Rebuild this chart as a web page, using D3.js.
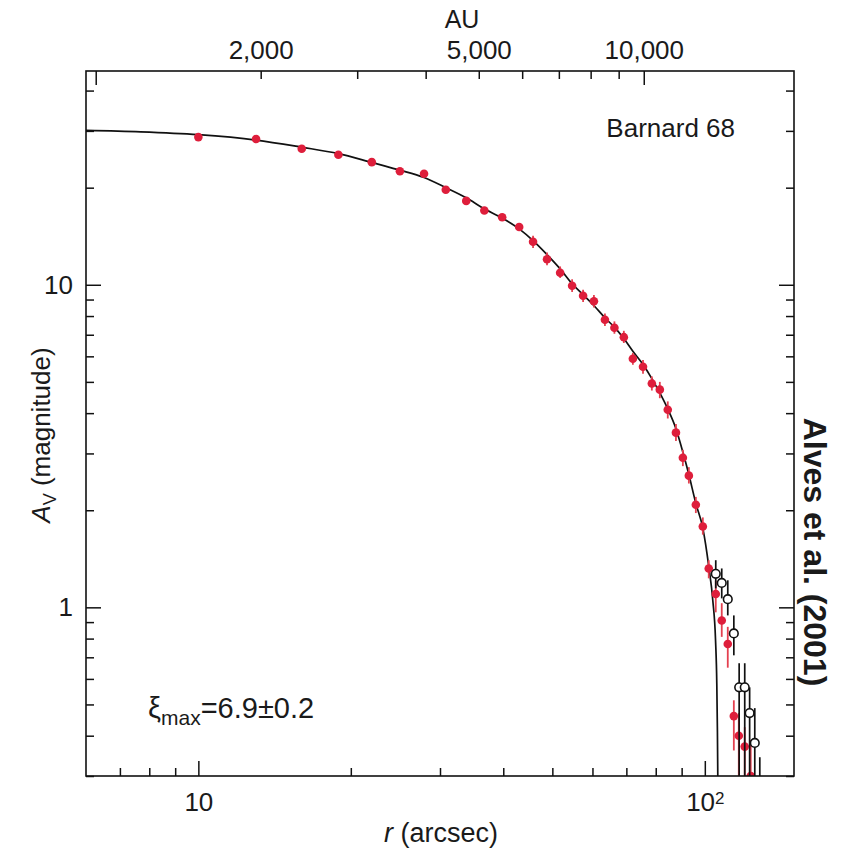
<!DOCTYPE html>
<html lang="en">
<head>
    <meta charset="UTF-8">
    <title>Barnard 68 extinction profile</title>
    <style>
        * { margin: 0; padding: 0; }
        body { background: #fff; }
        text { font-family: "Liberation Sans", Arial, sans-serif; fill: #1a1a1a; }
    </style>
</head>
<body>
    <div id="chart"></div>
    <script src="https://cdn.jsdelivr.net/npm/d3@7"></script>
    <script>
        // red points (NICER), r in arcsec, Av in magnitudes
        const redR = [10.0, 13.0, 16.0, 18.9, 22.0, 25.0, 27.9, 30.8, 33.8, 36.7, 39.8, 43.0, 45.8, 48.8, 51.8, 54.7, 57.5, 60.4, 63.5, 66.3, 69.2, 72.1, 75.5, 78.6, 81.5, 84.5, 87.7, 90.5, 93.0, 96.0, 99.1, 101.8, 105.1, 108.0, 111.0, 114.1, 116.7, 119.9, 123.2]
        const redAv = [28.7, 28.3, 26.4, 25.3, 24.0, 22.5, 22.1, 19.7, 18.2, 17.0, 16.2, 15.1, 13.6, 12.0, 10.9, 9.93, 9.25, 8.89, 7.79, 7.36, 6.88, 5.90, 5.57, 4.94, 4.73, 4.10, 3.48, 2.91, 2.56, 2.08, 1.78, 1.32, 1.10, 0.91, 0.77, 0.46, 0.40, 0.37, 0.30]
        const redLo = [null, null, null, null, null, null, null, null, null, null, null, null, 13.0, 11.5, 10.5, 9.5, 8.85, 8.5, 7.45, 7.05, 6.6, 5.65, 5.3, 4.7, 4.45, 3.85, 3.28, 2.74, 2.42, 1.96, 1.68, 1.23, 0.965, 0.81, 0.65, 0.36, 0.25, 0.25, 0.2]
        const redHi = [null, null, null, null, null, null, null, null, null, null, null, null, 14.2, 12.6, 11.4, 10.4, 9.65, 9.3, 8.15, 7.7, 7.2, 6.15, 5.85, 5.2, 5.0, 4.35, 3.7, 3.08, 2.72, 2.2, 1.9, 1.40, 1.21, 1.03, 0.87, 0.515, 0.47, 0.425, 0.388]

        // open circles
        const openR = [105.1, 108.0, 111.0, 114.1, 116.9, 119.9, 122.6, 125.5, 128.4]
        const openAv = [1.27, 1.19, 1.06, 0.83, 0.565, 0.565, 0.47, 0.38, 0.27]
        const openLo = [1.145, 1.066, 0.944, 0.71, 0.2, 0.2, 0.2, 0.2, 0.2]
        const openHi = [1.40, 1.32, 1.213, 0.944, 0.671, 0.671, 0.565, 0.487, 0.343]

        // Bonnor-Ebert fit
        const fitR = [6.0, 7.69, 10.0, 13.0, 16.0, 18.9, 21.7, 24.9, 27.9, 30.8, 33.8, 36.7, 39.8, 43.0, 45.8, 48.8, 51.8, 54.7, 57.5, 60.7, 63.5, 66.5, 69.2, 72.1, 75.5, 78.6, 81.5, 84.5, 87.7, 90.5, 93.0, 96.0, 99.1, 101.8, 103.7, 105.0, 105.6, 105.9, 106.1]
        const fitAv = [30.1, 29.8, 29.2, 28.1, 26.7, 25.5, 24.1, 22.7, 21.5, 20.0, 18.6, 17.2, 16.1, 14.9, 13.7, 12.4, 11.2, 10.07, 9.31, 8.55, 7.90, 7.35, 6.81, 6.22, 5.66, 5.12, 4.62, 4.12, 3.58, 3.03, 2.58, 2.10, 1.76, 1.34, 1.05, 0.79, 0.58, 0.41, 0.29]

        // ticks
        const xMajor = [10, 100]
        const xMinor = [7, 8, 9, 20, 30, 40, 50, 60, 70, 80, 90]
        const yMajor = [1, 10]
        const yMinor = [0.3, 0.4, 0.5, 0.6, 0.7, 0.8, 0.9, 2, 3, 4, 5, 6, 7, 8, 9, 20, 30, 40]
        const auMajor = [1000, 10000]
        const auMinor = [2000, 3000, 4000, 5000, 6000, 7000, 8000, 9000]
        const auLabels = [2000, 5000, 10000]

        function drawChart() {
            const width = 843
            const height = 849
            const left = 86, right = 794, top = 71, bottom = 776
            const red = '#de1e3b'

            const svg = d3.select('#chart')
                .append('svg')
                .attr('width', width)
                .attr('height', height)

            const x = d3.scaleLog().domain([6, 150]).range([left, right])
            const y = d3.scaleLog().domain([0.3, 46]).range([bottom, top])
            const xAU = d3.scaleLog().domain([960, 18800]).range([left, right])

            svg.append('clipPath').attr('id', 'plot')
                .append('rect')
                .attr('x', left).attr('y', top)
                .attr('width', right - left).attr('height', bottom - top)

            const plot = svg.append('g').attr('clip-path', 'url(#plot)')

            // fit curve
            const line = d3.line()
                .x((d, i) => x(fitR[i]))
                .y((d, i) => y(fitAv[i]))
                .curve(d3.curveMonotoneX)
            plot.append('path')
                .datum(fitR)
                .attr('d', line)
                .attr('fill', 'none')
                .attr('stroke', '#111')
                .attr('stroke-width', 1.7)

            // red error bars + points
            const redIdx = d3.range(redR.length)
            plot.selectAll('line.red-err')
                .data(redIdx.filter(i => redLo[i] !== null))
                .join('line')
                .attr('class', 'red-err')
                .attr('x1', i => x(redR[i]))
                .attr('x2', i => x(redR[i]))
                .attr('y1', i => y(redLo[i]))
                .attr('y2', i => y(redHi[i]))
                .attr('stroke', '#e4404f')
                .attr('stroke-width', 1.8)
            plot.selectAll('circle.red')
                .data(redIdx)
                .join('circle')
                .attr('class', 'red')
                .attr('cx', i => x(redR[i]))
                .attr('cy', i => y(redAv[i]))
                .attr('r', 4.3)
                .attr('fill', red)

            // open circles
            const openIdx = d3.range(openR.length)
            plot.selectAll('line.open-err')
                .data(openIdx)
                .join('line')
                .attr('class', 'open-err')
                .attr('x1', i => x(openR[i]))
                .attr('x2', i => x(openR[i]))
                .attr('y1', i => y(openLo[i]))
                .attr('y2', i => y(openHi[i]))
                .attr('stroke', '#111')
                .attr('stroke-width', 1.7)
            plot.selectAll('circle.open')
                .data(openIdx)
                .join('circle')
                .attr('class', 'open')
                .attr('cx', i => x(openR[i]))
                .attr('cy', i => y(openAv[i]))
                .attr('r', 4.3)
                .attr('fill', '#fff')
                .attr('stroke', '#111')
                .attr('stroke-width', 1.6)

            // axes, ticks pointing inward
            const fontSize = '26px'
            const styleAxis = g => {
                g.select('.domain').remove()
                g.selectAll('.tick line').attr('stroke', '#111').attr('stroke-width', 1.5)
                g.selectAll('.tick text').style('font-size', fontSize)
                    .style('font-family', '"Liberation Sans", Arial, sans-serif').attr('fill', '#1a1a1a')
            }

            svg.append('g').attr('transform', `translate(0, ${bottom})`)
                .call(d3.axisBottom(x).tickValues(xMinor).tickSize(-8).tickFormat(''))
                .call(styleAxis)
            const xAxisMajor = svg.append('g').attr('transform', `translate(0, ${bottom})`)
                .call(d3.axisBottom(x).tickValues(xMajor).tickSize(-15).tickPadding(17).tickFormat(d => '10'))
                .call(styleAxis)
            xAxisMajor.selectAll('.tick text')
                .filter(d => d === 100)
                .append('tspan')
                .attr('dy', '-0.45em')
                .style('font-size', '17px')
                .text('2')

            svg.append('g').attr('transform', `translate(${left}, 0)`)
                .call(d3.axisLeft(y).tickValues(yMinor).tickSize(-8).tickFormat(''))
                .call(styleAxis)
            svg.append('g').attr('transform', `translate(${left}, 0)`)
                .call(d3.axisLeft(y).tickValues(yMajor).tickSize(-15).tickPadding(13).tickFormat(d3.format('d')))
                .call(styleAxis)
            svg.append('g').attr('transform', `translate(${right}, 0)`)
                .call(d3.axisRight(y).tickValues(yMinor).tickSize(-8).tickFormat(''))
                .call(styleAxis)
            svg.append('g').attr('transform', `translate(${right}, 0)`)
                .call(d3.axisRight(y).tickValues(yMajor).tickSize(-15).tickFormat(''))
                .call(styleAxis)

            svg.append('g').attr('transform', `translate(0, ${top})`)
                .call(d3.axisTop(xAU).tickValues(auMinor).tickSize(-8).tickPadding(12)
                    .tickFormat(d => auLabels.includes(d) ? d3.format(',')(d) : ''))
                .call(styleAxis)
            svg.append('g').attr('transform', `translate(0, ${top})`)
                .call(d3.axisTop(xAU).tickValues(auMajor).tickSize(-14).tickPadding(12)
                    .tickFormat(d => auLabels.includes(d) ? d3.format(',')(d) : ''))
                .call(styleAxis)

            // frame
            svg.append('rect')
                .attr('x', left).attr('y', top)
                .attr('width', right - left).attr('height', bottom - top)
                .attr('fill', 'none')
                .attr('stroke', '#111')
                .attr('stroke-width', 1.6)

            // axis titles
            svg.append('text')
                .attr('x', 462).attr('y', 28)
                .attr('text-anchor', 'middle')
                .style('font-size', '25px')
                .text('AU')

            const xTitle = svg.append('text')
                .attr('x', 441).attr('y', 842)
                .attr('text-anchor', 'middle')
                .style('font-size', '27px')
            xTitle.append('tspan').style('font-style', 'italic').text('r')
            xTitle.append('tspan').text(' (arcsec)')

            const yTitle = svg.append('text')
                .attr('transform', 'translate(50, 435) rotate(-90)')
                .attr('text-anchor', 'middle')
                .style('font-size', '26px')
            yTitle.append('tspan').style('font-style', 'italic').text('A')
            yTitle.append('tspan').attr('dy', 6).style('font-size', '18px').text('V')
            yTitle.append('tspan').attr('dy', -6).text(' (magnitude)')

            svg.append('text')
                .attr('x', 735).attr('y', 137)
                .attr('text-anchor', 'end')
                .style('font-size', '26px')
                .text('Barnard 68')

            const xi = svg.append('text')
                .attr('x', 148).attr('y', 718)
                .style('font-size', '29px')
            xi.append('tspan').text('ξ')
            xi.append('tspan').attr('dy', 7).style('font-size', '21px').text('max')
            xi.append('tspan').attr('dy', -7).text('=6.9±0.2')

            svg.append('text')
                .attr('transform', 'translate(804, 552) rotate(90)')
                .attr('text-anchor', 'middle')
                .style('font-size', '32px')
                .style('font-weight', 700)
                .text('Alves et al. (2001)')
        }

        drawChart()
    </script>
</body>
</html>
